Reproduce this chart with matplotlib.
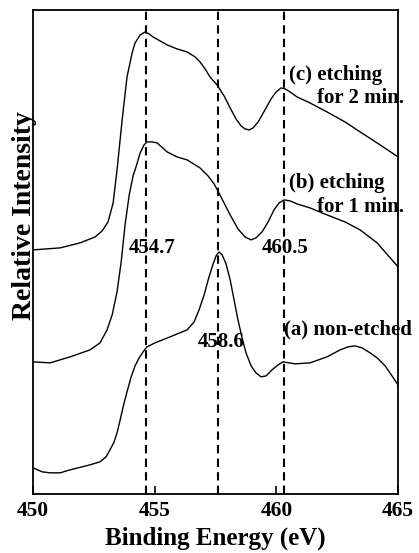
import matplotlib

matplotlib.use("Agg")
import matplotlib.pyplot as plt

# XPS spectra (binding energy in eV, intensity in arb. units)
energy_c = [450.00, 451.11, 451.93, 452.55, 452.84, 453.08, 453.29, 453.45, 453.66, 453.86,
            454.07, 454.19, 454.40, 454.60, 454.77, 454.93, 455.22, 455.51, 455.92, 456.33,
            456.66, 456.86, 457.07, 457.27, 457.56, 457.85, 458.10, 458.34, 458.55, 458.71,
            458.88, 459.04, 459.25, 459.53, 459.78, 459.99, 460.19, 460.36, 460.56, 460.85,
            461.38, 462.08, 462.82, 463.44, 464.14, 465.00]
inten_c = [24.4, 24.6, 25.1, 25.7, 26.3, 27.2, 29.1, 32.4, 37.4, 41.7,
           44.1, 45.1, 45.9, 46.2, 46.0, 45.7, 45.3, 44.9, 44.5, 44.2,
           43.7, 43.2, 42.5, 41.7, 40.9, 39.8, 38.6, 37.5, 36.8, 36.5,
           36.4, 36.6, 37.2, 38.4, 39.5, 40.2, 40.6, 40.5, 40.2, 39.7,
           39.1, 38.2, 37.2, 36.2, 35.1, 33.7]

energy_b = [450.00, 450.70, 451.52, 452.34, 452.75, 453.04, 453.25, 453.45, 453.62, 453.78,
            453.95, 454.11, 454.23, 454.40, 454.56, 454.68, 454.89, 455.10, 455.51, 455.92,
            456.33, 456.86, 457.19, 457.44, 457.68, 458.10, 458.42, 458.71, 458.96, 459.16,
            459.41, 459.66, 459.90, 460.11, 460.32, 460.56, 460.85, 461.38, 462.08, 462.82,
            463.44, 464.14, 465.00]
inten_b = [13.2, 13.1, 13.7, 14.4, 15.1, 16.4, 17.9, 20.2, 23.2, 26.9,
           29.9, 31.8, 32.7, 34.1, 34.9, 35.2, 35.2, 35.1, 34.2, 33.7,
           33.4, 32.6, 31.8, 31.0, 29.9, 27.9, 26.5, 25.7, 25.4, 25.6,
           26.2, 27.2, 28.4, 29.1, 29.4, 29.3, 29.0, 28.6, 27.9, 27.2,
           26.4, 25.1, 22.7]

energy_a = [450.00, 450.37, 450.70, 451.11, 451.52, 452.34, 452.75, 453.00, 453.16, 453.33,
            453.45, 453.58, 453.70, 453.86, 454.03, 454.19, 454.36, 454.52, 454.68, 455.01,
            455.63, 456.33, 456.62, 456.82, 457.03, 457.23, 457.40, 457.52, 457.64, 457.77,
            457.93, 458.10, 458.26, 458.42, 458.59, 458.75, 458.96, 459.16, 459.37, 459.58,
            459.82, 460.07, 460.27, 460.77, 461.38, 462.08, 462.62, 462.95, 463.23, 463.52,
            463.85, 464.14, 464.47, 464.75, 465.00]
inten_a = [2.6, 2.2, 2.1, 2.1, 2.4, 2.9, 3.2, 3.7, 4.4, 5.2,
           6.1, 7.4, 8.7, 10.2, 11.7, 12.8, 13.6, 14.2, 14.7, 15.1,
           15.7, 16.4, 17.2, 18.4, 19.9, 21.7, 23.0, 23.8, 24.2, 23.9,
           23.0, 21.4, 19.4, 17.4, 15.6, 14.1, 12.8, 12.1, 11.7, 11.8,
           12.4, 12.9, 13.2, 13.0, 13.1, 13.7, 14.4, 14.7, 14.8, 14.6,
           14.1, 13.6, 12.8, 11.8, 10.9]

peak_lines = [454.65, 457.6, 460.3]
x_ticks = [450, 455, 460, 465]

plt.rcParams["font.family"] = ["Liberation Serif", "DejaVu Serif"]
plt.rcParams["font.weight"] = "bold"

fig = plt.figure(figsize=(4.19, 5.53), dpi=100)
ax = fig.add_axes([0.079, 0.107, 0.871, 0.875])

for e, i in [(energy_c, inten_c), (energy_b, inten_b), (energy_a, inten_a)]:
    ax.plot(e, i, color="black", lw=1.0)

for x in peak_lines:
    ax.axvline(x, color="black", lw=1.5, linestyle=(0, (4, 2.5)))

ax.set_xlim(450, 465)
ax.set_ylim(0, 48.4)
ax.set_xticks(x_ticks)
ax.set_yticks([])
ax.tick_params(axis="x", direction="in", length=6, width=1.2, labelsize=15.5, pad=5)
for s in ax.spines.values():
    s.set_linewidth(1.3)

ax.set_xlabel("Binding Energy (eV)", fontsize=18, fontweight="bold", labelpad=4)
fig.text(0.058, 0.611, "Relative Intensity", rotation=90, fontsize=20,
         fontweight="bold", ha="center", va="center")

lab = dict(fontsize=15, fontweight="bold", va="center")
ax.text(453.95, 24.6, "454.7", ha="left", **lab)
ax.text(459.4, 24.6, "460.5", ha="left", **lab)
ax.text(456.75, 15.2, "458.6", ha="left", **lab)
ax.text(460.3, 16.4, "(a) non-etched", ha="left", **lab)
ax.text(460.5, 41.9, "(c) etching", ha="left", **lab)
ax.text(461.65, 39.6, "for 2 min.", ha="left", **lab)
ax.text(460.5, 31.1, "(b) etching", ha="left", **lab)
ax.text(461.65, 28.7, "for 1 min.", ha="left", **lab)

fig.savefig("out.png", dpi=100, facecolor="white")
